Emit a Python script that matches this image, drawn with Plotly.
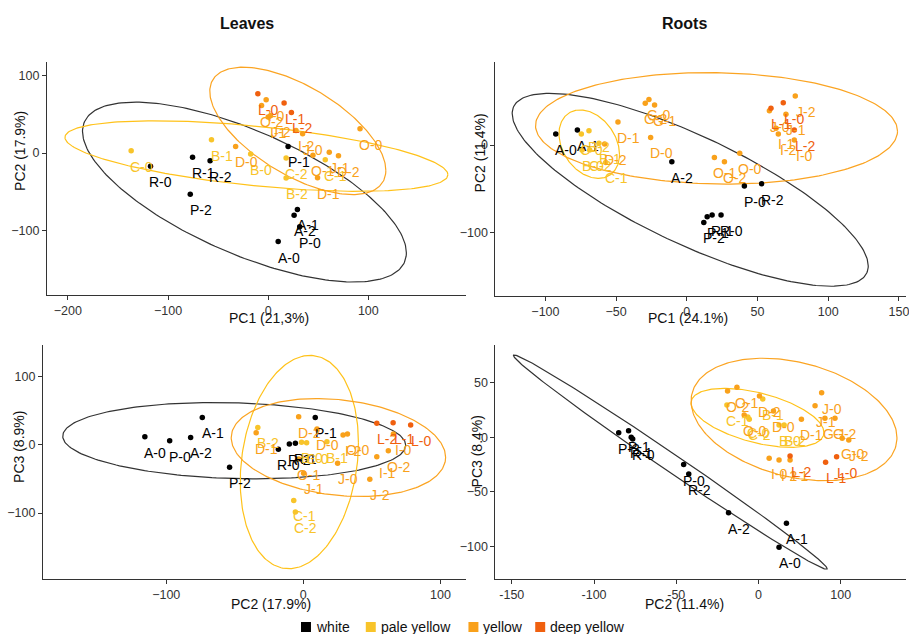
import numpy as np
import plotly.graph_objects as go

FW, FH = 909, 634

GROUPS = ["white", "pale yellow", "yellow", "deep yellow"]
COLORS = {"white": "#000000", "pale yellow": "#F8C42A", "yellow": "#F9A11B", "deep yellow": "#F0600F"}
ELL_COLORS = {"white": "#333333", "pale yellow": "#FFC21A", "yellow": "#FBA422"}

# ---------------- Leaves ----------------
leaf_labels = ["A-0", "A-1", "A-2", "P-0", "P-1", "P-2", "R-0", "R-1", "R-2",
               "B-0", "B-1", "B-2", "C-0", "C-1", "C-2",
               "D-0", "D-1", "D-2", "I-0", "I-1", "I-2", "J-0", "J-1", "J-2", "O-0", "O-1", "O-2",
               "L-0", "L-1", "L-2"]
leaf_groups = ["white", "white", "white", "white", "white", "white", "white", "white", "white",
               "pale yellow", "pale yellow", "pale yellow", "pale yellow", "pale yellow", "pale yellow",
               "yellow", "yellow", "yellow", "yellow", "yellow", "yellow", "yellow", "yellow", "yellow",
               "yellow", "yellow", "yellow",
               "deep yellow", "deep yellow", "deep yellow"]
# panel: PC1 vs PC2
leaf_pc1 = [10, 29.2, 25.9, 31.5, 19.9, -77.8, -117.5, -75.5, -58,
            -17.5, -56.6, 17.9, -136.8, 57, 17.9,
            -32.5, 49.3, 70.2, -2, 0, 27.8, 34.4, 61, 2.3, 91.7, 44.7, -6.6,
            -10.3, 15.9, 23.2]
leaf_pc2_a = [-114.7, -73.1, -80.5, -95.7, 8.6, -53.4, -17.2, -5.6, -9.9,
              -1.3, 17.2, -32.3, 3, -8.6, -6.5,
              8.6, -31.9, -3.4, 69, 46.6, 29.3, 25, 0.9, 48.3, 31.5, -3, 61.6,
              76.7, 64.7, 52.6]
# panel: PC2 vs PC3
leaf_pc2_b = [-115.6, -73.7, -82.2, -97.5, 8.7, -53.8, -18.2, -5.8, -10.2,
              -1.3, 17.2, -33.2, 2.4, -7, -5.8,
              10, -34.4, -3.4, 65.7, 53.6, 29, 25, 0.2, 48.5, 32.2, -3.4, 62,
              78.3, 65.5, 53.6]
leaf_pc3 = [12.2, 40.5, 11.2, 6.3, 40.5, -32.7, -6.3, 2.5, 1.5,
            4, 4.8, 25.9, 3.4, -81.5, -98.5,
            23.4, 18, 41.5, 16.1, -17.1, 14.6, -26.8, -41.5, -50.3, 16.1, -20.5, -8.3,
            29.3, 32.7, 31.8]

# ---------------- Roots ----------------
root_labels = ["A-0", "A-1", "A-2", "P-0", "P-1", "P-2", "R-0", "R-1", "R-2",
               "B-0", "B-1", "B-2", "C-0", "C-1", "C-2",
               "D-0", "D-1", "D-2", "G-0", "G-1", "G-2", "I-0", "I-1", "I-2",
               "J-0", "J-1", "J-2", "O-0", "O-1", "O-2",
               "L-0", "L-1", "L-2"]
root_groups = ["white", "white", "white", "white", "white", "white", "white", "white", "white",
               "pale yellow", "pale yellow", "pale yellow", "pale yellow", "pale yellow", "pale yellow",
               "yellow", "yellow", "yellow", "yellow", "yellow", "yellow", "yellow", "yellow", "yellow",
               "yellow", "yellow", "yellow", "yellow", "yellow", "yellow",
               "deep yellow", "deep yellow", "deep yellow"]
root_pc1 = [-92.7, -77.4, -10.6, 40.7, 14.4, 12, 24.2, 17.9, 52.9,
            -74.1, -62.1, -69.2, -74.6, -57.4, -68.7,
            -25.6, -48.7, -58.1, -26.8, -22.8, -29.4, 76, 63.1, 64.7,
            58.4, 70.1, 76.7, 37.4, 19.5, 26.6,
            68.2, 59.5, 76]
root_pc2_a = [12.5, 17.1, -19, -46.8, -81.7, -88.2, -79.8, -79.8, -44.1,
              -5.7, 1.9, 16.3, 12.5, -19.8, -5.7,
              8.7, 26.2, 1.1, 52, 45.6, 47.5, 5.7, 19, 12.5,
              39.2, 35, 55.9, -9.5, -14.1, -19,
              48.3, 41.8, 17.1]
root_pc2_b = [12.5, 17, -18.2, -45.5, -79, -85, -76.5, -77.4, -42.4,
              12.5, 2.6, 15.6, -6.5, -19.2, -5.6,
              9.1, 26.1, 0.6, 50.9, 40.4, 46.5, 6.5, 19.2, 12.5,
              38.4, 34.4, 54.9, -8.7, -13.1, -18.8,
              47.5, 40.8, 19.2]
root_pc3 = [-100.6, -78.7, -69, -25, 6, 4.2, -1.5, 0, -33.6,
            11.3, 35, 11.3, 18.5, 29.6, 16.5,
            24.1, 16.5, 37.8, -0.9, 17.4, 17.4, -19.2, -20.8, -20.8,
            40.8, 28.9, -2.5, 20.4, 45.7, 42.4,
            -17.7, -22.9, -17.1]

# ---------------- ellipses (center, half-extent in x / y, correlation) ----------------
ell_groups = ["white", "pale yellow", "yellow"]
p1_ell_cx = [-23.7, -11.7, 29.6]
p1_ell_cy = [-50.6, -3.9, 28.7]
p1_ell_w = [161.7, 191.2, 87.9]
p1_ell_h = [116.6, 45.7, 82.6]
p1_ell_r = [-0.675, -0.53, -0.62]

p2_ell_cx = [2.4, -69, 21]
p2_ell_cy = [-51, 1, 19]
p2_ell_w = [125.9, 21.4, 128]
p2_ell_h = [109.9, 39, 63.5]
p2_ell_r = [-0.79, -0.3, -0.05]

p3_ell_cx = [-50.4, -2.9, 25.6]
p3_ell_cy = [6.3, -25.1, -3.7]
p3_ell_w = [125.1, 43.1, 78.2]
p3_ell_h = [56.1, 156.8, 72]
p3_ell_r = [-0.12, 0.18, -0.2]

p4_ell_cx = [-53.6, -0.6, 21.6]
p4_ell_cy = [-22.7, 17.8, 16.3]
p4_ell_w = [95.4, 40.4, 62.6]
p4_ell_h = [98, 27, 56]
p4_ell_r = [-0.995, -0.5, -0.3]

# ---------------- axis ticks ----------------
p1_xticks = [-200, -100, 0, 100]
p1_yticks = [-100, 0, 100]
p2_xticks = [-100, -50, 0, 50, 100, 150]
p2_yticks = [-100, 0]
p3_xticks = [-100, 0, 100]
p3_yticks = [-100, 0, 100]
p4_xticks = [-150, -100, -50, 0, 50]
p4_xticktext = ["-150", "-100", "-50", "0", "100"]
p4_yticks = [-100, -50, 0, 50]

FONT = "Liberation Sans, Arial, sans-serif"


def px_dom_x(a, b):
    return [a / FW, b / FW]


def px_dom_y(top, bottom):
    return [1 - bottom / FH, 1 - top / FH]


panels = [
    dict(ax="", labels=leaf_labels, groups=leaf_groups, x=leaf_pc1, y=leaf_pc2_a,
         ell=(p1_ell_cx, p1_ell_cy, p1_ell_w, p1_ell_h, p1_ell_r),
         xdom=px_dom_x(47, 468), ydom=px_dom_y(62, 295), xr=[-221, 198], yr=[-184, 118],
         xt=p1_xticks, xtt=None, yt=p1_yticks),
    dict(ax="2", labels=root_labels, groups=root_groups, x=root_pc1, y=root_pc2_a,
         ell=(p2_ell_cx, p2_ell_cy, p2_ell_w, p2_ell_h, p2_ell_r),
         xdom=px_dom_x(497, 909), ydom=px_dom_y(62, 296), xr=[-135.4, 155], yr=[-172, 94.6],
         xt=p2_xticks, xtt=None, yt=p2_yticks),
    dict(ax="3", labels=leaf_labels, groups=leaf_groups, x=leaf_pc2_b, y=leaf_pc3,
         ell=(p3_ell_cx, p3_ell_cy, p3_ell_w, p3_ell_h, p3_ell_r),
         xdom=px_dom_x(43, 468), ydom=px_dom_y(345, 579), xr=[-190, 119], yr=[-197, 147],
         xt=p3_xticks, xtt=None, yt=p3_yticks),
    dict(ax="4", labels=root_labels, groups=root_groups, x=root_pc2_b, y=root_pc3,
         ell=(p4_ell_cx, p4_ell_cy, p4_ell_w, p4_ell_h, p4_ell_r),
         xdom=px_dom_x(497, 909), ydom=px_dom_y(345, 579), xr=[-160, 89.7], yr=[-129.6, 84.4],
         xt=p4_xticks, xtt=p4_xticktext, yt=p4_yticks),
]

fig = go.Figure()
annotations = []
shapes = []
layout = {}
t = np.linspace(0, 2 * np.pi, 241)

for p in panels:
    xa, ya = "x" + p["ax"], "y" + p["ax"]
    cx, cy, ew, eh, er = p["ell"]
    for i, g in enumerate(ell_groups):
        ex = cx[i] + ew[i] * np.cos(t)
        ey = cy[i] + eh[i] * (er[i] * np.cos(t) + np.sqrt(1 - er[i] ** 2) * np.sin(t))
        fig.add_trace(go.Scatter(x=ex, y=ey, mode="lines", xaxis=xa, yaxis=ya,
                                 line=dict(color=ELL_COLORS[g], width=1.2),
                                 showlegend=False, hoverinfo="skip"))
    for g in GROUPS:
        idx = [k for k, gg in enumerate(p["groups"]) if gg == g]
        fig.add_trace(go.Scatter(x=[p["x"][k] for k in idx], y=[p["y"][k] for k in idx],
                                 mode="markers", xaxis=xa, yaxis=ya,
                                 marker=dict(color=COLORS[g], size=5.5),
                                 showlegend=False, hoverinfo="skip"))
        for k in idx:
            annotations.append(dict(x=p["x"][k], y=p["y"][k], xref=xa, yref=ya,
                                    text=p["labels"][k], showarrow=False,
                                    xshift=10.5, yshift=-16, xanchor="center", yanchor="middle",
                                    font=dict(size=14, color=COLORS[g], family=FONT)))
    axcommon = dict(showline=True, linecolor="#333333", linewidth=1, ticks="outside", ticklen=4,
                    tickcolor="#333333", showgrid=False, zeroline=False,
                    ticklabeloverflow="allow",
                    tickfont=dict(size=12.5, color="#333333", family=FONT))
    xkey = "xaxis" + p["ax"]
    ykey = "yaxis" + p["ax"]
    xd = dict(axcommon, domain=p["xdom"], range=p["xr"], anchor=ya, tickvals=p["xt"])
    if p["xtt"] is not None:
        xd["ticktext"] = p["xtt"]
    yd = dict(axcommon, domain=p["ydom"], range=p["yr"], anchor=xa, tickvals=p["yt"])
    layout[xkey] = xd
    layout[ykey] = yd


def ann_px(text, px, py, size=14, bold=False, angle=0, xanchor="center", color="#111111"):
    return dict(text=("<b>%s</b>" % text) if bold else text, x=px / FW, y=1 - py / FH,
                xref="paper", yref="paper", showarrow=False, xanchor=xanchor, yanchor="middle",
                textangle=angle, font=dict(size=size, color=color, family=FONT))


annotations += [
    ann_px("Leaves", 248, 24, 16, True),
    ann_px("Roots", 687, 24, 16, True),
    ann_px("PC1 (21,3%)", 270, 318),
    ann_px("PC1 (24.1%)", 690, 318),
    ann_px("PC2 (17.9%)", 272, 604),
    ann_px("PC2 (11.4%)", 687, 604),
    ann_px("PC2 (17.9%)", 20, 151, angle=-90),
    ann_px("PC2 (11.4%)", 482, 153, angle=-90),
    ann_px("PC3 (8.9%)", 19, 447, angle=-90),
    ann_px("PC3 (8.4%)", 479, 451, angle=-90),
]

# legend (key swatches + names) along the bottom
LEG_X = [307, 372, 475, 542]
LEG_Y = 627
for g, lx in zip(GROUPS, LEG_X):
    shapes.append(dict(type="rect", xref="paper", yref="paper",
                       x0=(lx - 5) / FW, x1=(lx + 5) / FW,
                       y0=1 - (LEG_Y + 5) / FH, y1=1 - (LEG_Y - 5) / FH,
                       fillcolor=COLORS[g], line=dict(width=0)))
    annotations.append(ann_px(g, lx + 8, LEG_Y, 14, xanchor="left"))

fig.update_layout(
    width=FW, height=FH, margin=dict(l=0, r=0, t=0, b=0),
    paper_bgcolor="white", plot_bgcolor="white",
    annotations=annotations, shapes=shapes,
    showlegend=False,
    **layout,
)

fig.write_html("out.html", config={"displayModeBar": False},
               post_script="document.body.style.margin='0px';document.body.style.overflow='hidden';")
